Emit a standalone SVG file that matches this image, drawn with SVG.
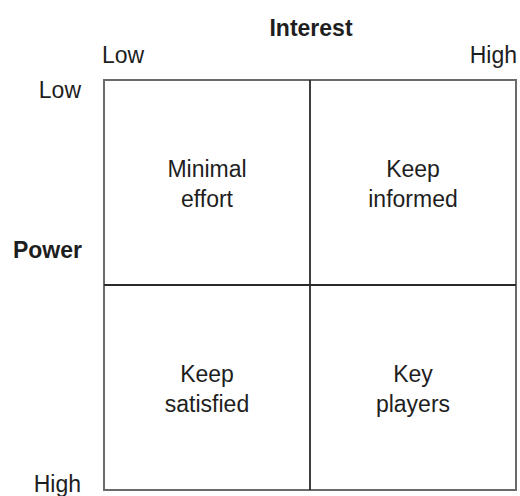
<svg xmlns="http://www.w3.org/2000/svg" width="520" height="496" viewBox="0 0 520 496">
<style>
text{font-family:"Liberation Sans",Arial,sans-serif;font-size:23px;fill:#1e1e1e}
.b{font-weight:bold}
.c{text-anchor:middle}
.e{text-anchor:end}
.frame{fill:none;stroke:#6a6a6a;stroke-width:2}
.div{stroke:#2a2a2a;stroke-width:1.8}
</style>
<rect width="520" height="496" fill="#fff"/>
<g id="axes">
<text class="b c" x="311" y="36">Interest</text>
<text x="102" y="63">Low</text>
<text class="e" x="517" y="63">High</text>
<text class="e" x="81" y="98">Low</text>
<text class="b e" x="82" y="258">Power</text>
<text class="e" x="81" y="492">High</text>
</g>
<g id="grid">
<rect class="frame" x="104" y="80" width="412" height="410"/>
<line class="div" x1="310" y1="80" x2="310" y2="490"/>
<line class="div" x1="104" y1="285" x2="516" y2="285"/>
</g>
<g id="minimal-effort"><text class="c" x="207" y="177">Minimal</text><text class="c" x="207" y="207">effort</text></g>
<g id="keep-informed"><text class="c" x="413" y="177">Keep</text><text class="c" x="413" y="207">informed</text></g>
<g id="keep-satisfied"><text class="c" x="207" y="382">Keep</text><text class="c" x="207" y="412">satisfied</text></g>
<g id="key-players"><text class="c" x="413" y="382">Key</text><text class="c" x="413" y="412">players</text></g>
</svg>
